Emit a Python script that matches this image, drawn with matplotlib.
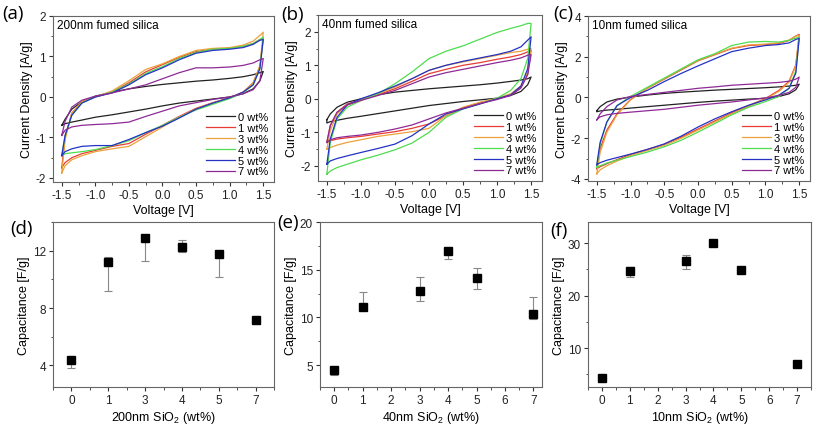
import matplotlib.pyplot as plt
from matplotlib.ticker import AutoMinorLocator

plt.rcParams['font.family'] = ['Liberation Sans', 'DejaVu Sans']
plt.rcParams['mathtext.default'] = 'regular'

# voltage grid used for both scan directions
volts = [-1.5, -1.45, -1.35, -1.2, -1.0, -0.75, -0.5, -0.25, 0.0,
         0.25, 0.5, 0.75, 1.0, 1.2, 1.35, 1.45, 1.5]

labels = ['0 wt%', '1 wt%', '3 wt%', '4 wt%', '5 wt%', '7 wt%']
colors = ['#222222', '#e83c34', '#eba23c', '#4fdc4f', '#2433c4', '#8e2a96']

# (a) 200 nm: forward (upper) and reverse (lower) branches
a_up = [
    [-0.70, -0.55, -0.30, -0.12, 0.02, 0.12, 0.20, 0.26, 0.31, 0.35, 0.39, 0.42, 0.46, 0.50, 0.55, 0.60, 0.63],
    [-1.75, -1.00, -0.40, -0.12, 0.00, 0.12, 0.35, 0.62, 0.80, 0.98, 1.12, 1.18, 1.20, 1.25, 1.32, 1.42, 1.45],
    [-1.88, -1.05, -0.40, -0.12, 0.00, 0.15, 0.40, 0.68, 0.82, 1.00, 1.15, 1.20, 1.22, 1.28, 1.38, 1.52, 1.60],
    [-1.45, -0.95, -0.45, -0.15, 0.00, 0.12, 0.32, 0.58, 0.75, 0.95, 1.10, 1.18, 1.20, 1.25, 1.32, 1.42, 1.48],
    [-1.45, -0.95, -0.45, -0.15, 0.00, 0.10, 0.30, 0.55, 0.72, 0.92, 1.08, 1.15, 1.18, 1.22, 1.30, 1.40, 1.42],
    [-0.95, -0.60, -0.25, -0.08, 0.02, 0.10, 0.20, 0.30, 0.45, 0.60, 0.72, 0.72, 0.74, 0.78, 0.84, 0.92, 0.95],
]
a_dn = [
    [-0.70, -0.66, -0.62, -0.57, -0.50, -0.44, -0.37, -0.30, -0.22, -0.15, -0.10, -0.05, 0.00, 0.08, 0.20, 0.40, 0.63],
    [-1.75, -1.62, -1.50, -1.40, -1.32, -1.22, -1.15, -0.92, -0.70, -0.48, -0.28, -0.14, -0.02, 0.12, 0.35, 0.75, 1.45],
    [-1.88, -1.70, -1.55, -1.45, -1.35, -1.28, -1.22, -0.98, -0.74, -0.50, -0.30, -0.15, -0.02, 0.12, 0.35, 0.78, 1.60],
    [-1.45, -1.40, -1.38, -1.35, -1.30, -1.20, -1.08, -0.88, -0.70, -0.50, -0.32, -0.18, -0.04, 0.10, 0.30, 0.70, 1.48],
    [-1.45, -1.35, -1.28, -1.22, -1.20, -1.20, -1.05, -0.88, -0.72, -0.52, -0.30, -0.15, -0.02, 0.12, 0.30, 0.70, 1.42],
    [-0.95, -0.82, -0.74, -0.70, -0.68, -0.66, -0.62, -0.48, -0.35, -0.22, -0.14, -0.06, 0.00, 0.08, 0.18, 0.40, 0.95],
]

# (b) 40 nm
b_up = [
    [-0.62, -0.45, -0.25, -0.10, 0.00, 0.12, 0.20, 0.25, 0.30, 0.34, 0.38, 0.42, 0.47, 0.52, 0.56, 0.60, 0.65],
    [-1.30, -0.80, -0.40, -0.15, -0.03, 0.12, 0.30, 0.52, 0.75, 0.88, 1.00, 1.08, 1.18, 1.25, 1.32, 1.40, 1.45],
    [-1.50, -0.95, -0.45, -0.18, -0.03, 0.15, 0.35, 0.60, 0.85, 1.00, 1.10, 1.20, 1.30, 1.38, 1.42, 1.48, 1.50],
    [-2.25, -1.30, -0.60, -0.25, -0.05, 0.15, 0.45, 0.80, 1.20, 1.42, 1.58, 1.78, 1.98, 2.10, 2.18, 2.25, 2.25],
    [-1.95, -1.20, -0.55, -0.18, 0.00, 0.18, 0.38, 0.60, 0.85, 1.00, 1.12, 1.22, 1.32, 1.42, 1.55, 1.75, 1.85],
    [-1.30, -0.80, -0.40, -0.18, -0.05, 0.10, 0.25, 0.45, 0.65, 0.78, 0.88, 0.98, 1.08, 1.15, 1.22, 1.30, 1.32],
]
b_dn = [
    [-0.72, -0.68, -0.64, -0.58, -0.52, -0.44, -0.36, -0.28, -0.20, -0.14, -0.08, -0.03, 0.02, 0.10, 0.22, 0.42, 0.65],
    [-1.30, -1.25, -1.20, -1.16, -1.12, -1.05, -0.98, -0.88, -0.75, -0.50, -0.28, -0.12, 0.00, 0.12, 0.35, 0.75, 1.45],
    [-1.50, -1.45, -1.38, -1.30, -1.22, -1.12, -1.05, -0.98, -0.88, -0.50, -0.25, -0.10, 0.02, 0.15, 0.38, 0.80, 1.50],
    [-2.25, -2.15, -2.05, -1.95, -1.82, -1.68, -1.52, -1.32, -1.00, -0.55, -0.30, -0.15, 0.02, 0.25, 0.60, 1.20, 2.25],
    [-1.95, -1.85, -1.78, -1.70, -1.60, -1.48, -1.35, -1.10, -0.75, -0.45, -0.30, -0.15, 0.00, 0.12, 0.38, 0.90, 1.85],
    [-1.30, -1.22, -1.16, -1.12, -1.08, -1.00, -0.90, -0.78, -0.60, -0.42, -0.28, -0.14, -0.02, 0.10, 0.32, 0.72, 1.32],
]

# (c) 10 nm
c_up = [
    [-0.65, -0.45, -0.22, -0.08, 0.02, 0.12, 0.20, 0.26, 0.31, 0.36, 0.40, 0.44, 0.48, 0.52, 0.56, 0.60, 0.65],
    [-3.50, -2.50, -1.60, -0.80, -0.10, 0.45, 0.90, 1.35, 1.80, 2.10, 2.40, 2.55, 2.60, 2.65, 2.80, 3.02, 3.10],
    [-3.75, -2.70, -1.70, -0.85, -0.12, 0.45, 0.92, 1.38, 1.82, 2.12, 2.42, 2.58, 2.62, 2.68, 2.82, 3.02, 3.05],
    [-3.40, -2.30, -1.20, -0.40, 0.05, 0.50, 0.95, 1.40, 1.85, 2.15, 2.55, 2.72, 2.75, 2.72, 2.80, 2.92, 2.95],
    [-3.30, -2.20, -1.20, -0.40, 0.00, 0.35, 0.78, 1.18, 1.55, 1.90, 2.25, 2.42, 2.55, 2.60, 2.68, 2.85, 2.90],
    [-1.10, -0.80, -0.45, -0.12, 0.05, 0.15, 0.25, 0.35, 0.45, 0.52, 0.60, 0.65, 0.70, 0.74, 0.80, 0.90, 1.00],
]
c_dn = [
    [-0.70, -0.66, -0.62, -0.58, -0.52, -0.45, -0.38, -0.31, -0.24, -0.18, -0.13, -0.08, -0.04, 0.05, 0.18, 0.38, 0.65],
    [-3.50, -3.40, -3.25, -3.05, -2.80, -2.55, -2.30, -1.95, -1.55, -1.15, -0.75, -0.40, -0.05, 0.35, 0.80, 1.60, 3.10],
    [-3.75, -3.55, -3.35, -3.12, -2.85, -2.60, -2.35, -2.00, -1.60, -1.20, -0.80, -0.45, -0.08, 0.30, 0.75, 1.55, 3.05],
    [-3.45, -3.35, -3.22, -3.08, -2.90, -2.68, -2.42, -2.10, -1.70, -1.28, -0.85, -0.48, -0.20, 0.05, 0.45, 1.30, 2.95],
    [-3.30, -3.20, -3.08, -2.95, -2.78, -2.55, -2.28, -1.90, -1.45, -1.05, -0.70, -0.38, -0.12, 0.12, 0.45, 1.20, 2.90],
    [-1.10, -0.95, -0.85, -0.78, -0.72, -0.65, -0.58, -0.48, -0.38, -0.30, -0.22, -0.12, -0.02, 0.10, 0.25, 0.50, 1.00],
]

# capacitance vs loading
wt = [0, 1, 3, 4, 5, 7]
d_cap = [4.4, 11.2, 12.9, 12.25, 11.75, 7.2]
d_lo = [0.55, 2.0, 1.6, 0.35, 1.6, 0.2]
d_hi = [0.05, 0.35, 0.05, 0.5, 0.05, 0.05]
e_cap = [4.45, 11.1, 12.75, 17.0, 14.1, 10.4]
e_lo = [0.45, 0.1, 1.0, 0.9, 1.1, 0.55]
e_hi = [0.15, 1.6, 1.45, 0.1, 1.05, 1.7]
f_cap = [4.4, 24.6, 26.6, 30.0, 24.9, 6.9]
f_lo = [0.1, 1.0, 1.6, 0.1, 0.1, 0.1]
f_hi = [0.1, 0.8, 1.2, 0.1, 0.1, 0.1]

W, H = 821, 427
fig = plt.figure(figsize=(W / 100, H / 100), dpi=100)


def box(l, t, r, b):
    return fig.add_axes([l / W, 1 - b / H, (r - l) / W, (b - t) / H])


def style(ax):
    for s in ax.spines.values():
        s.set_color('#666666')
        s.set_linewidth(0.8)
    ax.tick_params(which='both', direction='out', labelsize=8.5, colors='#333333',
                   labelcolor='#222222', pad=2)
    ax.tick_params(which='major', length=3)
    ax.tick_params(which='minor', length=1.8)
    ax.xaxis.set_minor_locator(AutoMinorLocator(2))
    ax.yaxis.set_minor_locator(AutoMinorLocator(2))


def tag_label(tag, xy):
    fig.text(xy[0] / W, 1 - xy[1] / H, tag, fontsize=13.5,
             family=['Open Sans', 'DejaVu Sans'], ha='left', va='center')


def cv_panel(ax, ups, dns, title, ylim, yticks, tag, tagxy):
    for up, dn, lab, col in zip(ups, dns, labels, colors):
        xs = volts + volts[::-1] + [volts[0]]
        ys = up + dn[::-1] + [up[0]]
        ax.plot(xs, ys, color=col, lw=0.9, label=lab)
    ax.set_xlim(-1.63, 1.66)
    ax.set_ylim(*ylim)
    ax.set_yticks(yticks)
    ax.set_xticks([-1.5, -1.0, -0.5, 0.0, 0.5, 1.0, 1.5])
    ax.set_xticklabels(['-1.5', '-1.0', '-0.5', '0.0', '0.5', '1.0', '1.5'])
    ax.set_yticklabels([str(v) for v in yticks])
    style(ax)
    ax.set_xlabel('Voltage [V]', fontsize=9, labelpad=2)
    ax.set_ylabel('Current Density [A/g]', fontsize=9, labelpad=2)
    ax.text(0.02, 0.98, title, transform=ax.transAxes, ha='left', va='top', fontsize=8.5)
    ax.legend(loc='lower right', frameon=False, fontsize=8, handlelength=2.6,
              labelspacing=0.08, borderaxespad=0.1, handletextpad=0.3)
    tag_label(tag, tagxy)


def cap_panel(ax, xs, cap, lo, hi, xlabel, tag, tagxy):
    ax.errorbar(xs, cap, yerr=[lo, hi], fmt='none', ecolor='#888888', elinewidth=0.8,
                capsize=3, capthick=0.8)
    ax.plot(xs, cap, 's', color='black', ms=6)
    style(ax)
    ax.set_xlabel(xlabel, fontsize=9, labelpad=2)
    ax.set_ylabel('Capacitance [F/g]', fontsize=9, labelpad=2)
    tag_label(tag, tagxy)


ax_a = box(53, 17, 274, 183)
cv_panel(ax_a, a_up, a_dn, '200nm fumed silica', (-2.1, 2.0), [-2, -1, 0, 1, 2], '(a)', (2, 14))
ax_b = box(318, 16, 542, 182)
cv_panel(ax_b, b_up, b_dn, '40nm fumed silica', (-2.45, 2.5), [-2, -1, 0, 1, 2], '(b)', (281, 15))
ax_c = box(588, 17, 810, 182)
cv_panel(ax_c, c_up, c_dn, '10nm fumed silica', (-4.1, 4.0), [-4, -2, 0, 2, 4], '(c)', (553, 14))

# (d) uses evenly spaced categories
ax_d = box(53, 223, 274, 388)
cap_panel(ax_d, list(range(len(wt))), d_cap, d_lo, d_hi, '200nm SiO$_2$ (wt%)', '(d)', (10, 229))
ax_d.set_xlim(-0.5, 5.5)
ax_d.set_ylim(2.5, 14)
ax_d.set_xticks(range(len(wt)))
ax_d.set_xticklabels([str(w) for w in wt])
ax_d.set_yticks([4, 8, 12])

ax_e = box(320, 223, 542, 388)
cap_panel(ax_e, wt, e_cap, e_lo, e_hi, '40nm SiO$_2$ (wt%)', '(e)', (277, 223))
ax_e.set_xlim(-0.5, 7.3)
ax_e.set_ylim(2.7, 20)
ax_e.set_xticks(range(8))
ax_e.set_yticks([5, 10, 15, 20])

ax_f = box(588, 223, 811, 388)
cap_panel(ax_f, wt, f_cap, f_lo, f_hi, '10nm SiO$_2$ (wt%)', '(f)', (550, 231))
ax_f.set_xlim(-0.5, 7.5)
ax_f.set_ylim(2.6, 34)
ax_f.set_xticks(range(8))
ax_f.set_yticks([10, 20, 30])

fig.savefig('out.png', dpi=100)
